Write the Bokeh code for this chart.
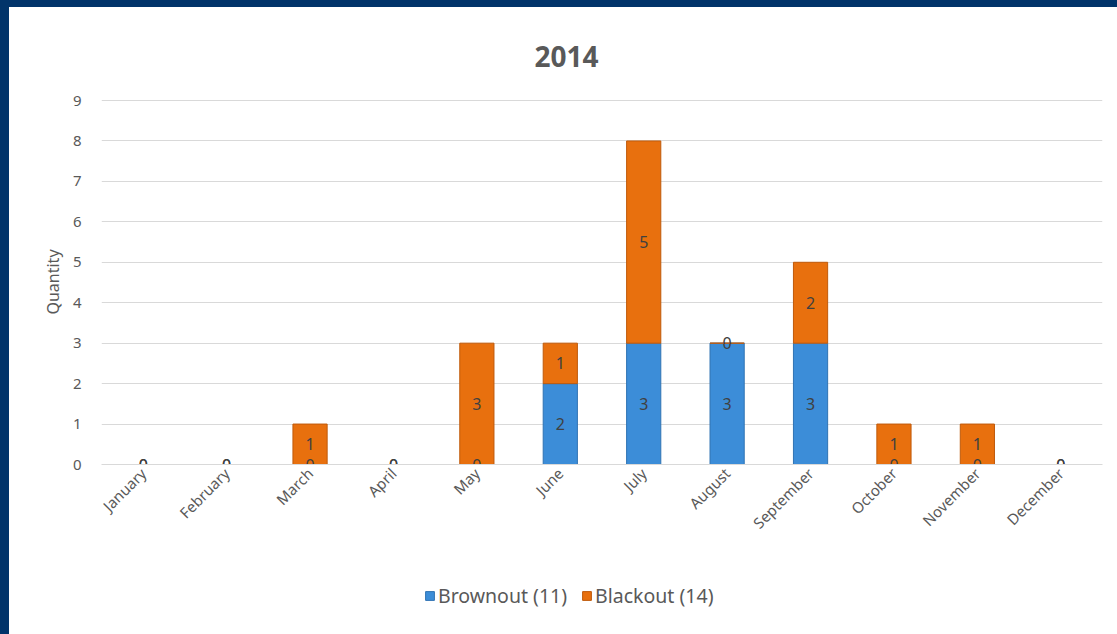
import math
from bokeh.plotting import figure
from bokeh.layouts import column
from bokeh.models import Range1d, Legend, LegendItem, ColumnDataSource, FactorRange, FixedTicker
from bokeh.embed import file_html
from bokeh.resources import INLINE
from bokeh.core.properties import value

# ---- data ----
months = ["January", "February", "March", "April", "May", "June",
          "July", "August", "September", "October", "November", "December"]
brownout = [0, 0, 0, 0, 0, 2, 3, 3, 3, 0, 0, 0]
blackout = [0, 0, 1, 0, 3, 1, 5, 0, 2, 1, 1, 0]
series_labels = ["Brownout (11)", "Blackout (14)"]
title_text = "2014"
y_label = "Quantity"
y_ticks = [0, 1, 2, 3, 4, 5, 6, 7, 8, 9]

# ---- styles ----
BLUE = "#3c8dd8"
BLUE_EDGE = "#2f73b3"
ORANGE = "#e8700e"
ORANGE_EDGE = "#bf5a0b"
NAVY = "#01346a"
TXT = "#595959"
FONT = "Noto Sans"

src = ColumnDataSource(dict(
    month=months,
    brownout=brownout,
    blackout=blackout,
    yb=[b / 2 for b in brownout],
    yk=[b + k / 2 for b, k in zip(brownout, blackout)],
    lb=[str(b) for b in brownout],
    lk=[str(k) for k in blackout],
))

xr = FactorRange(*months)
p = figure(x_range=xr, y_range=Range1d(0, 9.025),
           width=1108, height=560, output_backend="svg", toolbar_location=None,
           min_border_left=92, min_border_right=15, min_border_top=92,
           min_border_bottom=103)

p.title.text = title_text
p.title.text_font = FONT
p.title.text_font_size = "28px"
p.title.text_font_style = "bold"
p.title.text_color = TXT
p.title.align = "left"
p.title.offset = 433
p.title.standoff = 66

p.outline_line_color = None
p.background_fill_color = "white"
p.border_fill_color = "white"

rs = p.vbar_stack(["brownout", "blackout"], x="month", width=0.41, source=src,
                  fill_color=[BLUE, ORANGE], line_color=[BLUE_EDGE, ORANGE_EDGE],
                  line_width=1)

for ycol, tcol in (("yb", "lb"), ("yk", "lk")):
    p.text(x="month", y=ycol, text=tcol, source=src, text_align="center",
           text_baseline="middle", text_font=value(FONT), text_font_size="16px",
           text_color="#404040")

# axes
p.yaxis.ticker = FixedTicker(ticks=y_ticks)
p.yaxis.axis_line_color = None
p.yaxis.major_tick_line_color = None
p.yaxis.minor_tick_line_color = None
p.yaxis.major_label_text_font = FONT
p.yaxis.major_label_text_font_size = "15px"
p.yaxis.major_label_text_color = TXT
p.yaxis.major_label_standoff = 14
p.yaxis.axis_label = y_label
p.yaxis.axis_label_text_font = FONT
p.yaxis.axis_label_text_font_size = "16px"
p.yaxis.axis_label_text_font_style = "normal"
p.yaxis.axis_label_text_color = TXT
p.yaxis.axis_label_standoff = 6

p.xaxis.axis_line_color = "#d9d9d9"
p.xaxis.major_tick_line_color = None
p.xaxis.minor_tick_line_color = None
p.xaxis.major_label_orientation = math.pi / 4
p.xaxis.major_label_text_font = FONT
p.xaxis.major_label_text_font_size = "15px"
p.xaxis.major_label_text_color = TXT
p.xaxis.major_label_standoff = 0

p.xgrid.grid_line_color = None
p.ygrid.grid_line_color = "#d9d9d9"
p.ygrid.grid_line_width = 1

# ---- legend strip (hidden copies of the series supply the legend glyphs) ----
lf = figure(width=1108, height=67, output_backend="svg", toolbar_location=None,
            x_range=xr, y_range=Range1d(0, 1),
            min_border_left=0, min_border_right=0, min_border_top=0, min_border_bottom=0)
lf.axis.visible = False
lf.grid.grid_line_color = None
lf.outline_line_color = None
lf.border_fill_color = "white"
lf.background_fill_color = "white"
lr = lf.vbar_stack(["brownout", "blackout"], x="month", width=0.41, source=src,
                   fill_color=[BLUE, ORANGE], line_color=[BLUE_EDGE, ORANGE_EDGE],
                   line_width=1)
for r in lr:
    r.visible = False
legend = Legend(items=[LegendItem(label=series_labels[0], renderers=[lr[0]]),
                       LegendItem(label=series_labels[1], renderers=[lr[1]])],
                orientation="horizontal", location=(323, 25),
                label_text_font=FONT, label_text_font_size="19.5px",
                label_text_color=TXT, glyph_width=11, glyph_height=11,
                label_standoff=3, spacing=14, border_line_color=None,
                background_fill_alpha=0, inactive_fill_alpha=0)
lf.add_layout(legend)

layout = column(p, lf, spacing=0)

html = file_html(layout, INLINE)
css = ("<style>html,body{margin:0;overflow:hidden;}"
       "body{padding:7px 0 0 9px;"
       "background:linear-gradient(#ffffff,#ffffff) 9px 7px / 1108px 627px no-repeat, %s;}"
       "</style></head>" % NAVY)
html = html.replace("</head>", css, 1)
open("out.html", "w").write(html)
